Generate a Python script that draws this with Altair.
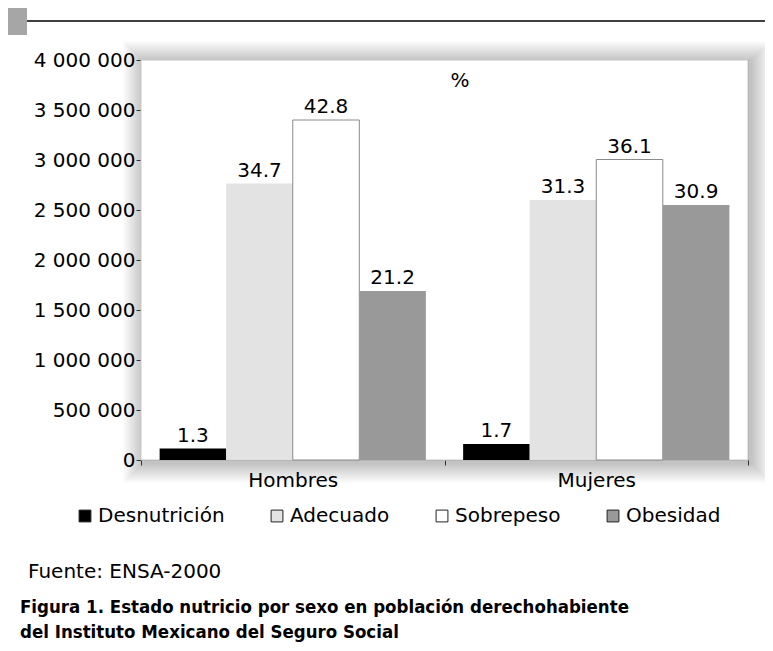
import altair as alt
import pandas as pd

# ---------------- data ----------------
categorias = ["Hombres", "Mujeres"]
estados = ["Desnutrición", "Adecuado", "Sobrepeso", "Obesidad"]
poblacion_hombres = [115000, 2765000, 3400000, 1690000]
poblacion_mujeres = [160000, 2600000, 3005000, 2550000]
pct_hombres = ["1.3", "34.7", "42.8", "21.2"]
pct_mujeres = ["1.7", "31.3", "36.1", "30.9"]
y_ticks = [0, 500000, 1000000, 1500000, 2000000, 2500000, 3000000, 3500000, 4000000]
colores = ["#000000", "#e3e3e3", "#ffffff", "#999999"]

rows = []
for sexo, vals, pcts in [("Hombres", poblacion_hombres, pct_hombres),
                         ("Mujeres", poblacion_mujeres, pct_mujeres)]:
    for e, v, p in zip(estados, vals, pcts):
        rows.append({"sexo": sexo, "estado": e, "poblacion": v, "pct": p})
df = pd.DataFrame(rows)

W, H = 607, 400
FONT = "DejaVu Sans"
BOLD = "DejaVu Sans Condensed, Liberation Sans, sans-serif"
one = pd.DataFrame({"t": ["%"]})

# ---------------- decoration: soft shadow around plot ----------------
layers = []
for k in range(1, 21):
    layers.append(
        alt.Chart(one).mark_rect(fill="#000000", opacity=0.012).encode(
            x=alt.value(2 - k), x2=alt.value(W + 3 + k),
            y=alt.value(1 - k), y2=alt.value(H + 3 + k))
    )
layers.append(
    alt.Chart(one).mark_rect(fill="#ffffff", stroke="#c8c8c8", strokeWidth=1).encode(
        x=alt.value(0), x2=alt.value(W), y=alt.value(0), y2=alt.value(H))
)

# ---------------- bars ----------------
x_enc = alt.X("sexo:N", sort=categorias,
              scale=alt.Scale(paddingInner=0, paddingOuter=0),
              axis=alt.Axis(title=None, labelAngle=0, tickBand="extent", domain=False,
                            tickSize=5, tickColor="#444444", tickWidth=1,
                            labelFont=FONT, labelFontSize=20, labelColor="#000000",
                            labelPadding=5))
y_enc = alt.Y("poblacion:Q", scale=alt.Scale(domain=[0, 4000000], nice=False),
              axis=alt.Axis(title=None, values=y_ticks, grid=False, domain=False,
                            tickSize=5, tickColor="#444444", tickWidth=1,
                            labelFont=FONT, labelFontSize=20, labelColor="#000000",
                            labelPadding=1,
                            labelExpr="replace(format(datum.value, ','), regexp(',', 'g'), ' ')"))
xo_enc = alt.XOffset("estado:N", sort=estados,
                     scale=alt.Scale(paddingInner=0, paddingOuter=0.28))

base = alt.Chart(df)
bars = base.mark_bar(strokeWidth=1).encode(
    x=x_enc, xOffset=xo_enc, y=y_enc,
    fill=alt.Fill("estado:N", sort=estados,
                  scale=alt.Scale(domain=estados, range=colores),
                  legend=alt.Legend(title=None, orient="none", legendX=-66, legendY=446,
                                    direction="horizontal", symbolType="square",
                                    symbolSize=140, symbolStrokeColor="#222222",
                                    symbolStrokeWidth=1, labelFont=FONT,
                                    labelFontSize=20, labelColor="#000000",
                                    labelOffset=3, columnPadding=42)),
    stroke=alt.condition("datum.estado == 'Sobrepeso'", alt.value("#8a8a8a"),
                         alt.value("transparent")),
)
labels = base.mark_text(baseline="bottom", dy=-3, font=FONT, fontSize=20,
                        color="#000000").encode(
    x=x_enc, xOffset=xo_enc, y=y_enc, text="pct:N")

percent = alt.Chart(one).mark_text(font=FONT, fontSize=20, color="#000000").encode(
    x=alt.value(319), y=alt.value(21), text="t:N")

# ---------------- header & footer ----------------
square = alt.Chart(one).mark_rect(fill="#a6a6a6").encode(
    x=alt.value(-133), x2=alt.value(-114), y=alt.value(-52), y2=alt.value(-25))
hline = alt.Chart(one).mark_rule(color="#000000", strokeWidth=1.6).encode(
    x=alt.value(-114), x2=alt.value(624), y=alt.value(-39))

fuente = alt.Chart(pd.DataFrame({"t": ["Fuente: ENSA-2000"]})).mark_text(
    align="left", baseline="middle", font=FONT, fontSize=20, color="#000000").encode(
    x=alt.value(-113), y=alt.value(512), text="t:N")
cap1 = alt.Chart(pd.DataFrame({"t": ["Figura 1. Estado nutricio por sexo en población derechohabiente"]})).mark_text(
    align="left", baseline="alphabetic", font=BOLD, fontWeight="bold", fontSize=18.5,
    color="#000000").encode(x=alt.value(-121), y=alt.value(553), text="t:N")
cap2 = alt.Chart(pd.DataFrame({"t": ["del Instituto Mexicano del Seguro Social"]})).mark_text(
    align="left", baseline="alphabetic", font=BOLD, fontWeight="bold", fontSize=18.5,
    color="#000000").encode(x=alt.value(-121), y=alt.value(578), text="t:N")

chart = alt.layer(*layers, bars, labels, percent, square, hline, fuente, cap1, cap2).properties(
    width=W, height=H,
    autosize=alt.AutoSizeParams(type="none"),
    padding={"left": 133, "top": 52, "right": 17, "bottom": 183},
).configure_view(stroke=None).configure(background="#ffffff")

chart.save("out.html", embed_options={"renderer": "svg", "actions": False})
